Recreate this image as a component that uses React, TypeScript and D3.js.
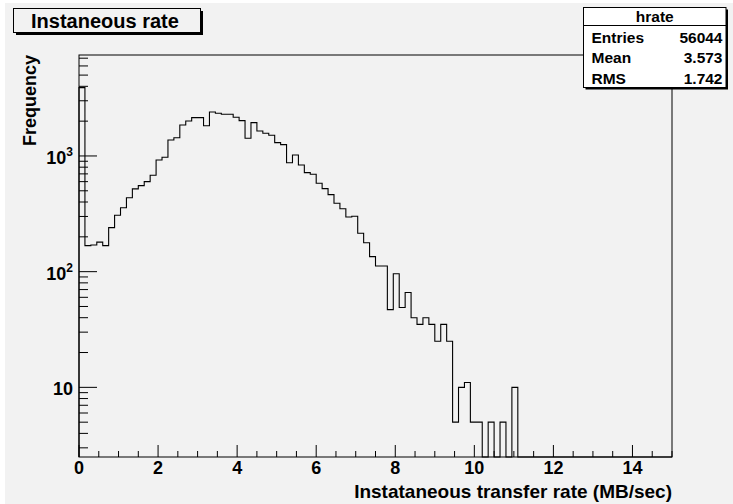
import { useEffect, useRef } from "react"
import * as d3 from "d3"

// hrate: 100 bins over [0, 15] MB/sec
const xMin = 0
const xMax = 15
const counts = [
  3900, 168, 170, 180, 168, 240, 307, 357, 436, 519,
  554, 600, 681, 923, 974, 1374, 1439, 1853, 2008, 2144,
  2144, 1827, 2399, 2338, 2294, 2294, 2162, 2019, 1423, 1942,
  1644, 1571, 1510, 1303, 1253, 875, 1020, 836, 718, 695,
  581, 522, 463, 390, 350, 297, 301, 215, 178, 135,
  112, 112, 47, 96, 49, 66, 40, 35, 40, 35,
  25, 35, 25, 5, 10, 11, 5, 5, 0, 5,
  0, 5, 0, 10, 0, 0, 0, 0, 0, 0,
  0, 0, 0, 0, 0, 0, 0, 0, 0, 0,
  0, 0, 0, 0, 0, 0, 0, 0, 0, 0,
]
const yRange = [2.5, 7460]
const xTicks = [0, 2, 4, 6, 8, 10, 12, 14]
const yTicks = [10, 100, 1000]
const yTickLabels = [["10", ""], ["10", "2"], ["10", "3"]]

const statLabels = ["Entries", "Mean", "RMS"]
const statValues = ["56044", "3.573", "1.742"]

const FONT = "'Liberation Sans', Arial, Helvetica, sans-serif"
const BG = "#f2f2f2"

export default function App() {
  const ref = useRef<SVGSVGElement>(null)

  useEffect(() => {
    document.body.style.margin = "0"
    if (!ref.current) return
    const svg = d3.select(ref.current)
    svg.selectAll("*").remove()

    const W = 733
    const H = 504
    const m = { left: 79, right: 672, top: 55, bottom: 457 }

    svg.append("rect").attr("width", W).attr("height", H).attr("fill", "#fff")
    svg.append("rect").attr("x", 5).attr("y", 3).attr("width", W - 5).attr("height", H - 3).attr("fill", BG)

    const x = d3.scaleLinear().domain([xMin, xMax]).range([m.left, m.right])
    const y = d3.scaleLog().domain(yRange).range([m.bottom, m.top])
    const bw = (xMax - xMin) / counts.length

    // frame
    svg.append("rect")
      .attr("x", m.left).attr("y", m.top)
      .attr("width", m.right - m.left).attr("height", m.bottom - m.top)
      .attr("fill", BG).attr("stroke", "#000").attr("stroke-width", 1)

    // histogram outline
    const yv = (v: number) => (v > yRange[0] ? y(v) : m.bottom)
    const pts: [number, number][] = [[x(xMin), m.bottom]]
    counts.forEach((c, i) => {
      pts.push([x(xMin + i * bw), yv(c)])
      pts.push([x(xMin + (i + 1) * bw), yv(c)])
    })
    pts.push([x(xMax), m.bottom])
    svg.append("path")
      .attr("d", d3.line()(pts))
      .attr("fill", "none").attr("stroke", "#000").attr("stroke-width", 1.1)

    // x axis ticks
    const xMinor = d3.range(xMin, xMax + 0.001, 0.5)
    svg.selectAll("line.xminor").data(xMinor).join("line")
      .attr("class", "xminor")
      .attr("x1", (d) => x(d)).attr("x2", (d) => x(d))
      .attr("y1", m.bottom).attr("y2", (d) => m.bottom - (d % 2 === 0 ? 12 : 6))
      .attr("stroke", "#000")
    svg.selectAll("text.xlab").data(xTicks).join("text")
      .attr("class", "xlab")
      .attr("x", (d) => x(d)).attr("y", 474)
      .attr("text-anchor", "middle")
      .attr("font-family", FONT).attr("font-weight", "bold").attr("font-size", 18)
      .text((d) => d)

    // y axis ticks (log)
    const yMinor: number[] = []
    ;[1, 10, 100, 1000].forEach((dec) => {
      for (let k = 2; k <= 9; k++) {
        const v = dec * k
        if (v >= yRange[0] && v <= yRange[1]) yMinor.push(v)
      }
    })
    svg.selectAll("line.yminor").data(yMinor).join("line")
      .attr("class", "yminor")
      .attr("x1", m.left).attr("x2", m.left + 9)
      .attr("y1", (d) => y(d)).attr("y2", (d) => y(d))
      .attr("stroke", "#000")
    svg.selectAll("line.ymajor").data(yTicks).join("line")
      .attr("class", "ymajor")
      .attr("x1", m.left).attr("x2", m.left + 18)
      .attr("y1", (d) => y(d)).attr("y2", (d) => y(d))
      .attr("stroke", "#000")
    const yl = svg.selectAll("text.ylab").data(yTicks).join("text")
      .attr("class", "ylab")
      .attr("x", 73).attr("y", (d) => y(d) + 8)
      .attr("text-anchor", "end")
      .attr("font-family", FONT).attr("font-weight", "bold").attr("font-size", 18)
    yl.each(function (_d, i) {
      const t = d3.select(this)
      t.append("tspan").text(yTickLabels[i][0])
      if (yTickLabels[i][1]) {
        t.append("tspan").attr("dy", -8).attr("font-size", 12).text(yTickLabels[i][1])
      }
    })

    // axis titles
    svg.append("text")
      .attr("x", m.right).attr("y", 498)
      .attr("text-anchor", "end")
      .attr("font-family", FONT).attr("font-weight", "bold").attr("font-size", 19)
      .text("Instataneous transfer rate (MB/sec)")
    svg.append("text")
      .attr("transform", `translate(36,${m.top}) rotate(-90)`)
      .attr("text-anchor", "end")
      .attr("font-family", FONT).attr("font-weight", "bold").attr("font-size", 18)
      .text("Frequency")

    // title box
    svg.append("rect").attr("x", 16).attr("y", 11).attr("width", 187).attr("height", 24).attr("fill", "#000")
    svg.append("rect").attr("x", 13.5).attr("y", 8.5).attr("width", 187).attr("height", 24)
      .attr("fill", BG).attr("stroke", "#000")
    svg.append("text")
      .attr("x", 31).attr("y", 27.5)
      .attr("font-family", FONT).attr("font-weight", "bold").attr("font-size", 20)
      .text("Instaneous rate")

    // stats box
    const sx = 583.5
    const sw = 142.5
    const sy = 7.5
    const sh = 80
    svg.append("rect").attr("x", sx + 2).attr("y", sy + 2).attr("width", sw).attr("height", sh).attr("fill", "#000")
    svg.append("rect").attr("x", sx).attr("y", sy).attr("width", sw).attr("height", sh)
      .attr("fill", "#fff").attr("stroke", "#000")
    svg.append("line").attr("x1", sx).attr("x2", sx + sw).attr("y1", 25.5).attr("y2", 25.5).attr("stroke", "#000")
    svg.append("text")
      .attr("x", sx + sw / 2).attr("y", 22)
      .attr("text-anchor", "middle")
      .attr("font-family", FONT).attr("font-weight", "bold").attr("font-size", 15.5)
      .text("hrate")
    statLabels.forEach((lab, i) => {
      const by = 43 + i * 20.3
      svg.append("text")
        .attr("x", 591.5).attr("y", by)
        .attr("font-family", FONT).attr("font-weight", "bold").attr("font-size", 15.5)
        .text(lab)
      svg.append("text")
        .attr("x", 722.5).attr("y", by)
        .attr("text-anchor", "end")
        .attr("font-family", FONT).attr("font-weight", "bold").attr("font-size", 15.5)
        .text(statValues[i])
    })
  }, [])

  return <svg ref={ref} width={733} height={504} style={{ display: "block" }} />
}
